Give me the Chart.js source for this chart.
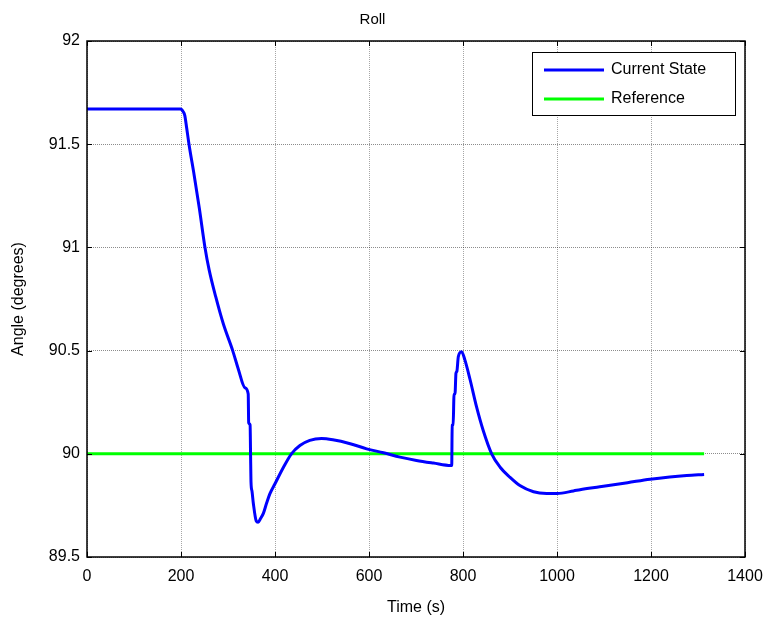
<!DOCTYPE html>
<html><head><meta charset="utf-8">
<script src="https://cdn.jsdelivr.net/npm/chart.js@4/dist/chart.umd.min.js"></script>
<style>html,body{margin:0;padding:0;background:#fff}#wrap{width:770px;height:617px}</style>
</head><body><div id="wrap"><canvas id="c" width="770" height="617"></canvas></div>
<script>
const chartTitle = "Roll";
const xAxisTitle = "Time (s)";
const yAxisTitle = "Angle (degrees)";
const seriesNames = ["Current State", "Reference"];
const xTicks = [0,200,400,600,800,1000,1200,1400];
const yTicks = [89.5,90,90.5,91,91.5,92];
const timeCurrent = [0,199,201,204,208,212,217,228,239,251,260,274,290,310,322,336,343,344,347,348,349,351,354,360,364,369,375,382,389,400,418,435,453,474,499,523,560,595,631,666,701,737,774,776,777,779,781,783,785,787,790,797,804,815,829,843,861,879,900,921,950,978,1000,1035,1049,1091,1150,1198,1240,1276,1313];
const valueCurrent = [91.67,91.67,91.668,91.66,91.64,91.58,91.5,91.35,91.19,91.0,90.89,90.76,90.63,90.5,90.41,90.32,90.29,90.15,90.14,90.0,89.86,89.82,89.758,89.675,89.668,89.685,89.71,89.76,89.806,89.855,89.935,90.0,90.04,90.065,90.074,90.068,90.049,90.024,90.005,89.984,89.968,89.955,89.943,89.943,90.138,90.14,90.29,90.29,90.39,90.40,90.47,90.495,90.455,90.36,90.226,90.113,90.0,89.935,89.886,89.846,89.816,89.808,89.808,89.82,89.826,89.84,89.86,89.877,89.888,89.895,89.90];
const timeReference = [0,1313];
const valueReference = [90,90];

const FONT = "'Liberation Sans', Arial, sans-serif";
const curData = timeCurrent.map((t,i)=>({x:t,y:valueCurrent[i]}));
const refData = timeReference.map((t,i)=>({x:t,y:valueReference[i]}));

const boxPlugin = {
  id:'boxPlugin',
  afterDraw(chart){
    const {ctx, chartArea:a, scales:{x,y}} = chart;
    ctx.save();
    ctx.strokeStyle='#000'; ctx.lineWidth=1.5;
    ctx.strokeRect(a.left, a.top, a.right-a.left, a.bottom-a.top);
    ctx.lineWidth=1;
    const L=5;
    ctx.beginPath();
    xTicks.forEach(v=>{const px=Math.round(x.getPixelForValue(v))+0.5;
      ctx.moveTo(px,a.bottom); ctx.lineTo(px,a.bottom-L);
      ctx.moveTo(px,a.top); ctx.lineTo(px,a.top+L);});
    yTicks.forEach(v=>{const py=Math.round(y.getPixelForValue(v))+0.5;
      ctx.moveTo(a.left,py); ctx.lineTo(a.left+L,py);
      ctx.moveTo(a.right,py); ctx.lineTo(a.right-L,py);});
    ctx.stroke();
    // legend
    const lx=532, ly=52, lw=203, lh=63;
    ctx.fillStyle='#fff'; ctx.fillRect(lx,ly,lw,lh);
    ctx.strokeStyle='#000'; ctx.lineWidth=1;
    ctx.strokeRect(lx+0.5,ly+0.5,lw,lh);
    ctx.font='16px '+FONT; ctx.textBaseline='middle'; ctx.fillStyle='#000';
    chart.data.datasets.forEach((ds,i)=>{
      const yy = ly+18+i*29;
      ctx.strokeStyle=ds.borderColor; ctx.lineWidth=3;
      ctx.beginPath(); ctx.moveTo(lx+12,yy); ctx.lineTo(lx+72,yy); ctx.stroke();
      ctx.fillText(ds.label, lx+79, yy);
    });
    ctx.restore();
  }
};

new Chart(document.getElementById('c'), {
  type:'line',
  data:{datasets:[
    {label:seriesNames[0], data:curData, borderColor:'#0000ff', borderWidth:3, pointRadius:0, tension:0.3, cubicInterpolationMode:'monotone', fill:false},
    {label:seriesNames[1], data:refData, borderColor:'#00ff00', borderWidth:3, pointRadius:0, tension:0, fill:false}
  ]},
  options:{
    responsive:false, animation:false, devicePixelRatio:1,
    layout:{padding:{left:0,right:25,top:0,bottom:0}},
    plugins:{
      legend:{display:false}, tooltip:{enabled:false},
      title:{display:true, text:chartTitle, color:'#000', font:{family:FONT,size:15,weight:'normal'}, padding:{top:11,bottom:12}}
    },
    scales:{
      x:{type:'linear', min:0, max:1400,
        afterBuildTicks(s){s.ticks=xTicks.map(v=>({value:v}));},
        afterFit(s){s.height=60; s.paddingRight=0; s.paddingLeft=0;},
        grid:{color:'rgba(0,0,0,0.35)', drawTicks:false, tickLength:0},
        border:{display:false, dash:[1,1]},
        ticks:{color:'#000', padding:10, font:{family:FONT,size:16}, maxRotation:0, callback:v=>String(v)},
        title:{display:true, text:xAxisTitle, color:'#000', font:{family:FONT,size:16}, padding:{top:4,bottom:0}}
      },
      y:{type:'linear', min:89.5, max:92,
        afterBuildTicks(s){s.ticks=yTicks.map(v=>({value:v}));},
        afterFit(s){s.width=87;},
        grid:{color:'rgba(0,0,0,0.45)', drawTicks:false, tickLength:0},
        border:{display:false, dash:[1,1]},
        ticks:{color:'#000', padding:7, font:{family:FONT,size:16}, callback:v=>String(v)},
        title:{display:true, text:yAxisTitle, color:'#000', font:{family:FONT,size:16}, padding:{top:9,bottom:4}}
      }
    }
  },
  plugins:[boxPlugin]
});
</script></body></html>
